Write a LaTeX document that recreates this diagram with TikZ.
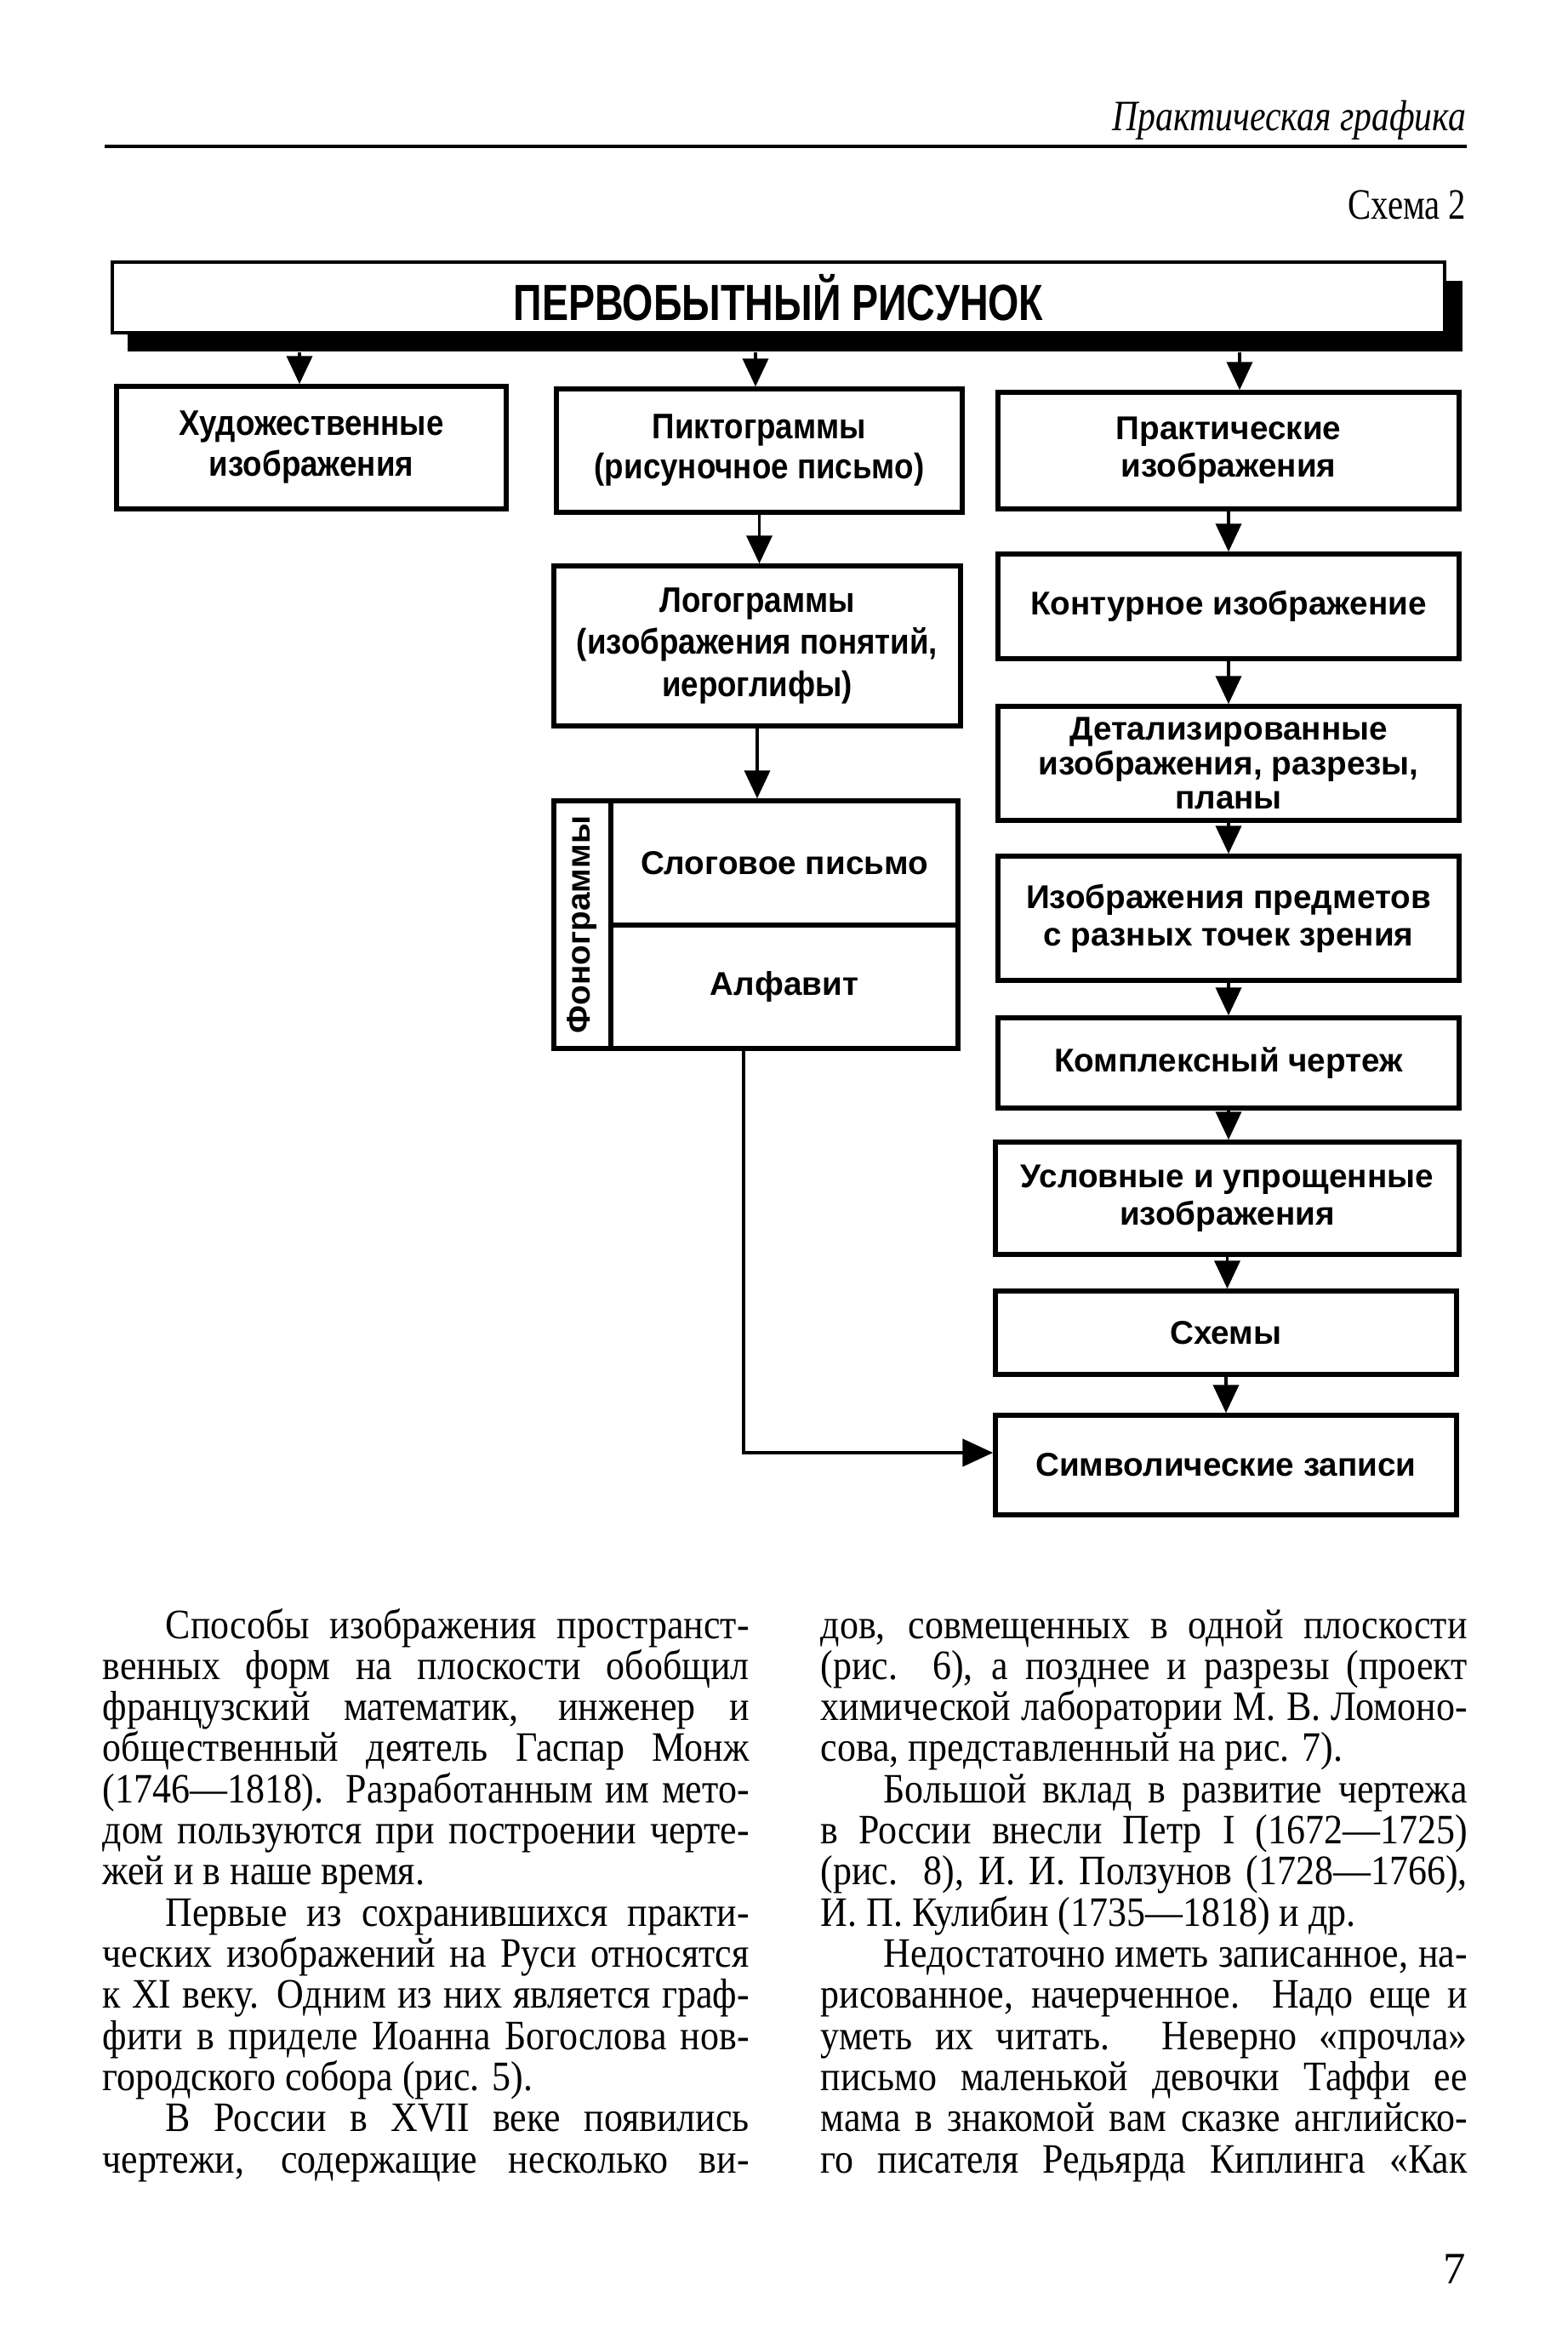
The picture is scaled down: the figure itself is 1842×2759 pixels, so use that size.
\documentclass[tikz,border=0pt]{standalone}
\usepackage{fontspec}
\setmainfont{Liberation Serif}
\setsansfont{Liberation Sans}
\usetikzlibrary{arrows.meta}
\tikzset{
  box/.style={draw, line width=0.55mm, fill=white, inner sep=0pt, align=center,
    font=\sffamily\bfseries\fontsize{11}{12.5}\selectfont},
  arr/.style={line width=0.38mm, -{Triangle[width=3mm,length=3.3mm]}},
  arrb/.style={line width=0.45mm, -{Triangle[width=3.2mm,length=3.6mm]}},
  bodyL/.style={anchor=base west, inner sep=0pt, font=\fontsize{12.5}{13.75}\selectfont},
}
\newcommand\bline[5]{\node[bodyL] (#1) at (#2,#3) {\scalebox{1}[1.12]{\makebox[76mm][#4]{#5}}};}
\newcommand\ind{\hspace*{7.4mm}}
\newcommand\tall[1]{\scalebox{0.95}[1.08]{\begin{tabular}{@{}c@{}}#1\end{tabular}}}
\begin{document}
\begin{tikzpicture}[x=0.1mm,y=-0.1mm]
\useasboundingbox (0,0) rectangle (1842,2759);
% header
\node[anchor=base east, inner sep=0pt, font=\itshape\fontsize{14.5}{16}\selectfont] (hdr) at (1724,153) {\scalebox{0.82}[1]{Практическая графика}};
\draw[line width=0.35mm] (123,172) -- (1724,172);
\node[anchor=base east, inner sep=0pt, font=\fontsize{14.5}{16}\selectfont] (sch) at (1724,257) {\scalebox{0.8}[1]{Схема 2}};
% main box
\node[fill=black, inner sep=0pt, minimum width=156.9mm, minimum height=8.3mm] (shad) at (934.5,371.5) {};
\node[draw, line width=0.45mm, fill=white, inner sep=0pt, minimum width=156.6mm, minimum height=8.3mm,
  font=\sffamily\bfseries\fontsize{17}{19}\selectfont] (top) at (915,349.5) {\scalebox{0.78}[1]{ПЕРВОБЫТНЫЙ РИСУНОК}};
% row 2
\node[box, minimum width=45.8mm, minimum height=14.4mm] (b1) at (366,526) {\tall{Художественные\\изображения}};
\node[box, minimum width=47.7mm, minimum height=14.5mm] (b2) at (892.5,529.5) {\tall{Пиктограммы\\(рисуночное письмо)}};
\node[box, minimum width=54.2mm, minimum height=13.7mm] (b3) at (1444,529.5) {Практические\\изображения};
% middle column
\node[box, minimum width=47.8mm, minimum height=18.8mm, font=\sffamily\bfseries\fontsize{11}{13}\selectfont] (logo) at (890,759) {\tall{Логограммы\\(изображения понятий,\\иероглифы)}};
\node[box, minimum width=47.5mm, minimum height=29.1mm] (ph) at (888.5,1086.5) {};
\node[draw, line width=0.4mm, inner sep=0pt, minimum width=6.7mm, minimum height=29.1mm] (phs) at (684.5,1086.5) {};
\node[rotate=90, inner sep=0pt, font=\sffamily\bfseries\fontsize{11}{12}\selectfont] (phtxt) at (phs.center) {Фонограммы};
\node[box, minimum width=40.8mm, minimum height=14.6mm] (syl) at (922,1014) {Слоговое письмо};
\node[box, minimum width=40.8mm, minimum height=14.5mm] (alph) at (922,1159.5) {Алфавит};
% right column
\node[box, minimum width=54.2mm, minimum height=12.3mm] (r1) at (1444,712.5) {Контурное изображение};
\node[box, minimum width=54.2mm, minimum height=13.4mm, font=\sffamily\bfseries\fontsize{11}{11.5}\selectfont] (r2) at (1444,897) {Детализированные\\изображения, разрезы,\\планы};
\node[box, minimum width=54.2mm, minimum height=14.6mm] (r3) at (1444,1079) {Изображения предметов\\с разных точек зрения};
\node[box, minimum width=54.2mm, minimum height=10.6mm] (r4) at (1444,1249) {Комплексный чертеж};
\node[box, minimum width=54.5mm, minimum height=13.2mm] (r5) at (1442.5,1408) {Условные и упрощенные\\изображения};
\node[box, minimum width=54.2mm, minimum height=9.8mm] (r6) at (1441,1566) {Схемы};
\node[box, minimum width=54.2mm, minimum height=11.7mm] (r7) at (1441,1721.5) {Символические записи};
% arrows from main box
\coordinate (t1) at ([xshift=-58.25mm]shad.south);
\coordinate (t2) at ([xshift=-4.65mm]shad.south);
\coordinate (t3) at ([xshift=52.25mm]shad.south);
\draw[arr] (t1) -- (t1 |- b1.north);
\draw[arr] (t2) -- (t2 |- b2.north);
\draw[arr] (t3) -- (t3 |- b3.north);
\draw[arr] (b2.south) -- (b2.south |- logo.north);
\draw[arr] (logo.south) -- (logo.south |- ph.north);
\draw[arr] (b3.south) -- (b3.south |- r1.north);
\draw[arr] (r1.south) -- (r1.south |- r2.north);
\draw[arr] (r2.south) -- (r2.south |- r3.north);
\draw[arr] (r3.south) -- (r3.south |- r4.north);
\draw[arr] (r4.south) -- (r4.south |- r5.north);
\draw[arr] (r5.south) -- (r5.south |- r6.north);
\draw[arr] (r6.south) -- (r6.south |- r7.north);
\coordinate (c0) at ([xshift=-1.45mm]ph.south);
\draw[arrb] (c0) |- ([yshift=1.45mm]r7.west);
% body text, left column
\bline{l1}{120}{1925}{s}{\ind Способы изображения пространст-}
\bline{l2}{120}{1973.3}{s}{венных форм на плоскости обобщил}
\bline{l3}{120}{2021.6}{s}{французский математик, инженер и}
\bline{l4}{120}{2069.9}{s}{общественный деятель Гаспар Монж}
\bline{l5}{120}{2118.2}{s}{(1746—1818). Разработанным им мето-}
\bline{l6}{120}{2166.6}{s}{дом пользуются при построении черте-}
\bline{l7}{120}{2214.9}{l}{жей и в наше время.}
\bline{l8}{120}{2263.2}{s}{\ind Первые из сохранившихся практи-}
\bline{l9}{120}{2311.5}{s}{ческих изображений на Руси относятся}
\bline{l10}{120}{2359.8}{s}{к XI веку. Одним из них является граф-}
\bline{l11}{120}{2408.1}{s}{фити в приделе Иоанна Богослова нов-}
\bline{l12}{120}{2456.4}{l}{городского собора (рис. 5).}
\bline{l13}{120}{2504.7}{s}{\ind В России в XVII веке появились}
\bline{l14}{120}{2553.0}{s}{чертежи, содержащие несколько ви-}
% body text, right column
\bline{m1}{964}{1925}{s}{дов, совмещенных в одной плоскости}
\bline{m2}{964}{1973.3}{s}{(рис. 6), а позднее и разрезы (проект}
\bline{m3}{964}{2021.6}{s}{химической лаборатории М. В. Ломоно-}
\bline{m4}{964}{2069.9}{l}{сова, представленный на рис. 7).}
\bline{m5}{964}{2118.2}{s}{\ind Большой вклад в развитие чертежа}
\bline{m6}{964}{2166.6}{s}{в России внесли Петр I (1672—1725)}
\bline{m7}{964}{2214.9}{s}{(рис. 8), И. И. Ползунов (1728—1766),}
\bline{m8}{964}{2263.2}{l}{И. П. Кулибин (1735—1818) и др.}
\bline{m9}{964}{2311.5}{s}{\ind Недостаточно иметь записанное, на-}
\bline{m10}{964}{2359.8}{s}{рисованное, начерченное. Надо еще и}
\bline{m11}{964}{2408.1}{s}{уметь их читать. Неверно «прочла»}
\bline{m12}{964}{2456.4}{s}{письмо маленькой девочки Таффи ее}
\bline{m13}{964}{2504.7}{s}{мама в знакомой вам сказке английско-}
\bline{m14}{964}{2553.0}{s}{го писателя Редьярда Киплинга «Как}
% page number
\node[anchor=base east, inner sep=0pt, font=\fontsize{15}{17}\selectfont] (pg) at (1724,2683) {7};
\end{tikzpicture}
\end{document}
